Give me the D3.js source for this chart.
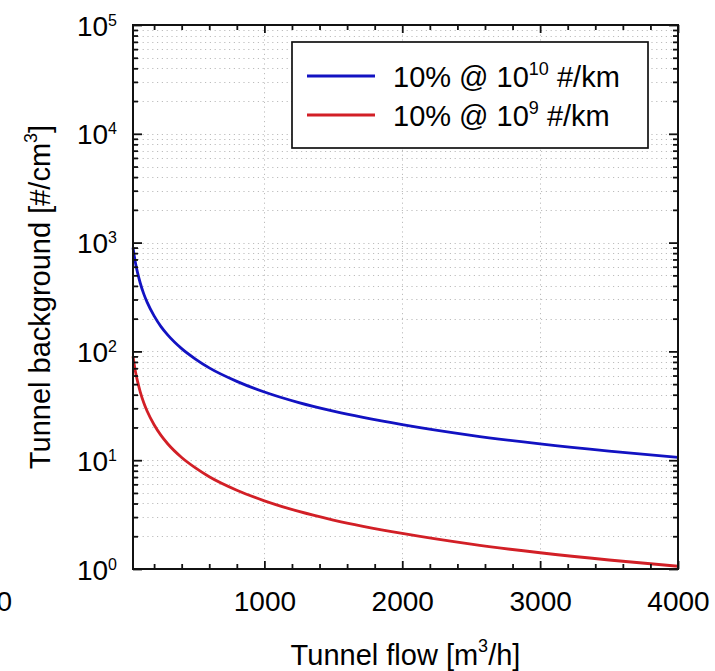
<!DOCTYPE html>
<html>
<head>
<meta charset="utf-8">
<script src="https://cdn.jsdelivr.net/npm/d3@7/dist/d3.min.js"></script>
<style>
  html, body { margin: 0; padding: 0; background: #fff; }
  svg { display: block; }
  text { font-family: "Liberation Sans", Arial, Helvetica, sans-serif; fill: #000; }
</style>
</head>
<body>
<svg id="chart" width="715" height="671"></svg>
<script>
// Tunnel flow [m3/h] sample points
const flow = [47, 55, 65, 80, 100, 125, 150, 200, 250, 300, 400, 500, 600, 800,
              1000, 1250, 1500, 2000, 2500, 3000, 3500, 4000];
// Tunnel background [#/cm3] for 10% @ 1e10 #/km
const bgHigh = [900, 770, 650, 530, 423, 338, 282, 212, 169, 141, 106, 85, 70.5, 53,
                42.3, 33.8, 28.2, 21.2, 16.9, 14.1, 12.1, 10.6];
// Tunnel background [#/cm3] for 10% @ 1e9 #/km
const bgLow = [90, 77, 65, 53, 42.3, 33.8, 28.2, 21.2, 16.9, 14.1, 10.6, 8.5, 7.05, 5.3,
               4.23, 3.38, 2.82, 2.12, 1.69, 1.41, 1.21, 1.06];

const seriesLabels = [["10% @ 10", "10", " #/km"], ["10% @ 10", "9", " #/km"]];
const seriesColors = ["#1212c2", "#d21f26"];

const xTicks = [1000, 2000, 3000, 4000];
const xMinorStep = 200;
const yExponents = [0, 1, 2, 3, 4, 5];

const L = 133, R = 678, T = 25, B = 569;
const svg = d3.select("#chart");

const x = d3.scaleLinear().domain([47, 4000]).range([L, R]);
const y = d3.scaleLog().domain([1, 1e5]).range([B, T]);

const yMajor = yExponents.map(e => Math.pow(10, e));
const yMinor = [];
yExponents.slice(0, -1).forEach(e => {
  for (let m = 2; m <= 9; m++) yMinor.push(m * Math.pow(10, e));
});
const xMinor = d3.range(xMinorStep, 4000, xMinorStep).filter(v => v % 1000 !== 0 && v >= 47);

// grid
const grid = svg.append("g").attr("stroke", "#bdbdbd").attr("stroke-width", 1)
  .attr("stroke-dasharray", "1.2,3.6");
grid.selectAll("line.h").data(yMajor.concat(yMinor).filter(v => v > 1 && v < 1e5))
  .join("line").attr("class", "h")
  .attr("x1", L).attr("x2", R)
  .attr("y1", d => Math.round(y(d)) + 0.5).attr("y2", d => Math.round(y(d)) + 0.5);
grid.selectAll("line.v").data(xTicks.filter(v => v < 4000))
  .join("line").attr("class", "v")
  .attr("y1", T).attr("y2", B)
  .attr("x1", d => Math.round(x(d)) + 0.5).attr("x2", d => Math.round(x(d)) + 0.5);

// curves
const line = d3.line().x(d => x(d[0])).y(d => y(d[1])).curve(d3.curveMonotoneX);
[bgHigh, bgLow].forEach((vals, i) => {
  svg.append("path")
    .datum(flow.map((f, j) => [f, vals[j]]))
    .attr("fill", "none")
    .attr("stroke", seriesColors[i])
    .attr("stroke-width", 2.8)
    .attr("d", line);
});

// axes
function styleAxis(g) {
  g.select(".domain").remove();
  g.selectAll(".tick line").attr("stroke", "#111").attr("stroke-width", 1.8);
}
const tickFont = 28;

// left: majors with labels
const left = svg.append("g").attr("transform", `translate(${L},0)`)
  .call(d3.axisLeft(y).tickValues(yMajor).tickSize(-9).tickPadding(16).tickFormat(() => ""))
  .call(styleAxis);
left.selectAll(".tick text").each(function(d) {
  const t = d3.select(this).attr("dy", null).attr("y", 10)
    .attr("font-size", tickFont).attr("text-anchor", "end");
  t.append("tspan").text("10");
  t.append("tspan").attr("font-size", 16).attr("dy", -10).text(Math.round(Math.log10(d)));
});
svg.append("g").attr("transform", `translate(${L},0)`)
  .call(d3.axisLeft(y).tickValues(yMinor).tickSize(-5).tickFormat(""))
  .call(styleAxis);

// right
svg.append("g").attr("transform", `translate(${R},0)`)
  .call(d3.axisRight(y).tickValues(yMajor).tickSize(-9).tickFormat(""))
  .call(styleAxis);
svg.append("g").attr("transform", `translate(${R},0)`)
  .call(d3.axisRight(y).tickValues(yMinor).tickSize(-5).tickFormat(""))
  .call(styleAxis);

// bottom
const bottom = svg.append("g").attr("transform", `translate(0,${B})`)
  .call(d3.axisBottom(x).tickValues(xTicks).tickSize(-8).tickPadding(22).tickFormat(d3.format("d")))
  .call(styleAxis);
bottom.selectAll(".tick text").attr("font-size", tickFont);
svg.append("g").attr("transform", `translate(0,${B})`)
  .call(d3.axisBottom(x).tickValues(xMinor).tickSize(-5).tickFormat(""))
  .call(styleAxis);

// top
svg.append("g").attr("transform", `translate(0,${T})`)
  .call(d3.axisTop(x).tickValues(xTicks).tickSize(-8).tickFormat(""))
  .call(styleAxis);
svg.append("g").attr("transform", `translate(0,${T})`)
  .call(d3.axisTop(x).tickValues(xMinor).tickSize(-5).tickFormat(""))
  .call(styleAxis);

// frame
svg.append("rect").attr("x", L).attr("y", T).attr("width", R - L).attr("height", B - T)
  .attr("fill", "none").attr("stroke", "#111").attr("stroke-width", 2);

// stray zero label at the far left edge
svg.append("text").attr("x", 12).attr("y", 611).attr("text-anchor", "end")
  .attr("font-size", tickFont).text("0");

// axis titles
const xl = svg.append("text").attr("x", (L + R) / 2).attr("y", 665)
  .attr("text-anchor", "middle").attr("font-size", 29);
xl.append("tspan").text("Tunnel flow [m");
xl.append("tspan").attr("font-size", 18).attr("dy", -13).text("3");
xl.append("tspan").attr("dy", 13).text("/h]");

const yl = svg.append("text")
  .attr("transform", `translate(50,${(T + B) / 2}) rotate(-90)`)
  .attr("text-anchor", "middle").attr("font-size", 29);
yl.append("tspan").text("Tunnel background [#/cm");
yl.append("tspan").attr("font-size", 18).attr("dy", -13).text("3");
yl.append("tspan").attr("dy", 13).text("]");

// legend
const lg = svg.append("g");
lg.append("rect").attr("x", 292).attr("y", 42).attr("width", 356).attr("height", 106)
  .attr("fill", "#fff").attr("stroke", "#111").attr("stroke-width", 1.7);
[76, 115].forEach((ly, i) => {
  lg.append("line").attr("x1", 307).attr("x2", 375).attr("y1", ly).attr("y2", ly)
    .attr("stroke", seriesColors[i]).attr("stroke-width", 2.8);
  const t = lg.append("text").attr("x", 393).attr("y", ly + 10.5).attr("font-size", 29);
  t.append("tspan").text(seriesLabels[i][0]);
  t.append("tspan").attr("font-size", 18).attr("dy", -12).text(seriesLabels[i][1]);
  t.append("tspan").attr("dy", 12).text(seriesLabels[i][2]);
});
</script>
</body>
</html>
